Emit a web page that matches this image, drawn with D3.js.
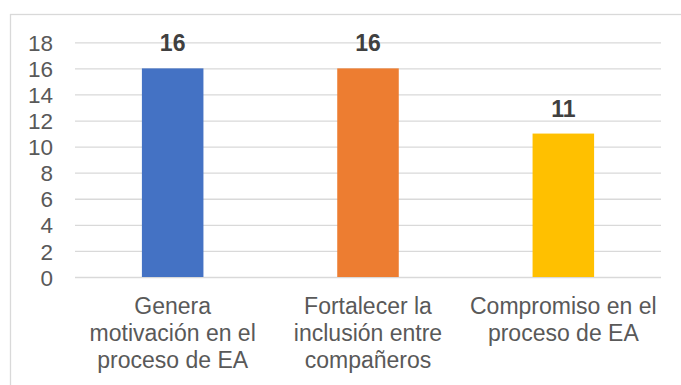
<!DOCTYPE html>
<html>
<head>
<meta charset="utf-8">
<script src="https://cdn.jsdelivr.net/npm/d3@7"></script>
<style>
  html, body { margin: 0; padding: 0; background: #fff; }
  svg { display: block; font-family: "Liberation Sans", Arial, sans-serif; }
</style>
</head>
<body>
<svg id="chart" width="681" height="385"></svg>
<script>
// Category labels, split into the lines they wrap onto
const categories = [
  ["Genera", "motivación en el", "proceso de EA"],
  ["Fortalecer la", "inclusión entre", "compañeros"],
  ["Compromiso en el", "proceso de EA"]
];
const values = [16, 16, 11];
const barColors = ["#4472C4", "#ED7D31", "#FFC000"];
const yTicks = [0, 2, 4, 6, 8, 10, 12, 14, 16, 18];

const svg = d3.select("#chart");
const W = 681, H = 385;
const plot = { left: 75, right: 661, top: 42.3, bottom: 277 };

// Outer chart frame
svg.append("rect")
  .attr("x", 10.5).attr("y", 14.5)
  .attr("width", W).attr("height", H)
  .attr("fill", "none").attr("stroke", "#d9d9d9").attr("stroke-width", 1.3);

const x = d3.scaleBand()
  .domain(d3.range(categories.length))
  .range([plot.left, plot.right])
  .paddingInner(0.685)
  .paddingOuter(0.3425);

const y = d3.scaleLinear()
  .domain([0, 18])
  .range([plot.bottom, plot.top]);

// Horizontal gridlines + y-axis labels
const yAxis = d3.axisLeft(y)
  .tickValues(yTicks)
  .tickSize(-(plot.right - plot.left))
  .tickPadding(22)
  .tickFormat(d3.format("d"));

const gy = svg.append("g")
  .attr("transform", `translate(${plot.left},0)`)
  .call(yAxis);
gy.select(".domain").remove();
gy.selectAll(".tick line").attr("stroke", "#d9d9d9").attr("stroke-width", 1.3);
gy.selectAll(".tick text")
  .attr("fill", "#595959")
  .style("font-size", "22.5px")
  .style("font-family", "'Liberation Sans', Arial, sans-serif")
  .attr("dy", "0.36em");

// Bars
svg.append("g").selectAll("rect")
  .data(values)
  .join("rect")
  .attr("x", (d, i) => x(i))
  .attr("y", d => y(d))
  .attr("width", x.bandwidth())
  .attr("height", d => y(0) - y(d))
  .attr("fill", (d, i) => barColors[i]);

// Value labels above bars
svg.append("g").selectAll("text")
  .data(values)
  .join("text")
  .attr("x", (d, i) => x(i) + x.bandwidth() / 2)
  .attr("y", d => y(d) - 17)
  .attr("text-anchor", "middle")
  .attr("fill", "#404040")
  .style("font-size", "23px")
  .style("font-weight", "bold")
  .text(d => d);

// Category labels below the axis
const gx = svg.append("g");
categories.forEach((lines, i) => {
  const t = gx.append("text")
    .attr("text-anchor", "middle")
    .attr("fill", "#595959")
    .style("font-size", "23px");
  lines.forEach((ln, j) => {
    t.append("tspan")
      .attr("x", x(i) + x.bandwidth() / 2)
      .attr("y", 313.5 + j * 27.3)
      .text(ln);
  });
});
</script>
</body>
</html>
